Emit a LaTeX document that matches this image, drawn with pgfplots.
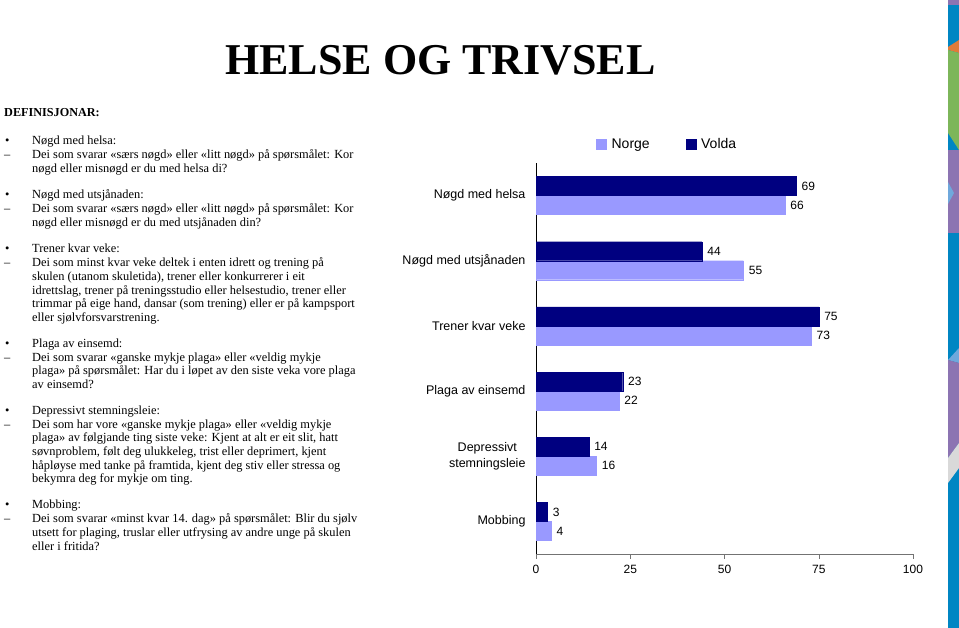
\documentclass[border=0pt]{standalone}
\usepackage{fontspec}
\setmainfont{Liberation Serif}
\newfontfamily\arial{Liberation Sans}
\usepackage{pgfplots}
\pgfplotsset{compat=1.18}

\definecolor{norge}{HTML}{9999FF}
\definecolor{volda}{HTML}{000080}
\definecolor{sblue}{HTML}{0086C3}
\definecolor{sgreen}{HTML}{7DB65A}
\definecolor{spurple}{HTML}{8C74B2}
\definecolor{sorange}{HTML}{E07B39}
\definecolor{slight}{HTML}{6FA8DC}
\definecolor{sgray}{HTML}{D9D9D9}

% one definition: bullet, dash, and the lines (y = first baseline, from top)
\newcommand\grp[2]{%
  \node[anchor=base west,inner sep=0] at (5pt,{(628-#1)*1pt}) {\fontsize{12.4}{13.7}\selectfont •};
  \node[anchor=base west,inner sep=0] at (4pt,{(628-#1-13.7)*1pt}) {\fontsize{12.4}{13.7}\selectfont –};
  \node[anchor=base west,inner sep=0] at (32pt,{(628-#1)*1pt})
    {\parbox[t]{360pt}{\fontsize{12.4}{13.7}\selectfont\raggedright #2}};
}

\begin{document}
\begin{tikzpicture}
\path[use as bounding box, fill=white] (0,0) rectangle (959pt,628pt);

% right decoration strip
\fill[sblue] (948pt,0) rectangle (959pt,628pt);
\fill[spurple] (948pt,628pt) rectangle (959pt,623pt);
\fill[sorange] (948pt,581pt) -- (959pt,588pt) -- (959pt,575pt) -- (948pt,578pt) -- cycle;
\fill[sgreen] (948pt,578pt) -- (959pt,575pt) -- (959pt,478pt) -- (948pt,495pt) -- cycle;
\fill[spurple] (948pt,478pt) rectangle (959pt,395pt);
\fill[slight] (948pt,446pt) -- (954pt,435pt) -- (948pt,424pt) -- cycle;
\fill[slight] (948pt,268pt) -- (959pt,280pt) -- (959pt,265pt) -- cycle;
\fill[spurple] (948pt,268pt) -- (959pt,265pt) -- (959pt,185pt) -- (948pt,170pt) -- cycle;
\fill[sgray] (948pt,170pt) -- (959pt,185pt) -- (959pt,160pt) -- (948pt,145pt) -- cycle;

% title
\node[anchor=base,inner sep=0] at (440.5pt,553pt)
  {\fontsize{44}{50}\selectfont\bfseries HELSE OG TRIVSEL};

% definitions
\node[anchor=base west,inner sep=0] at (4pt,511pt)
  {\fontsize{12.2}{14}\selectfont\bfseries DEFINISJONAR:};
\grp{145}{Nøgd med helsa:\\
Dei som svarar «særs nøgd» eller «litt nøgd» på spørsmålet: Kor\\
nøgd eller misnøgd er du med helsa di?}
\grp{199}{Nøgd med utsjånaden:\\
Dei som svarar «særs nøgd» eller «litt nøgd» på spørsmålet: Kor\\
nøgd eller misnøgd er du med utsjånaden din?}
\grp{253}{Trener kvar veke:\\
Dei som minst kvar veke deltek i enten idrett og trening på\\
skulen (utanom skuletida), trener eller konkurrerer i eit\\
idrettslag, trener på treningsstudio eller helsestudio, trener eller\\
trimmar på eige hand, dansar (som trening) eller er på kampsport\\
eller sjølvforsvarstrening.}
\grp{347.5}{Plaga av einsemd:\\
Dei som svarar «ganske mykje plaga» eller «veldig mykje\\
plaga» på spørsmålet: Har du i løpet av den siste veka vore plaga\\
av einsemd?}
\grp{414.5}{Depressivt stemningsleie:\\
Dei som har vore «ganske mykje plaga» eller «veldig mykje\\
plaga» av følgjande ting siste veke: Kjent at alt er eit slit, hatt\\
søvnproblem, følt deg ulukkeleg, trist eller deprimert, kjent\\
håpløyse med tanke på framtida, kjent deg stiv eller stressa og\\
bekymra deg for mykje om ting.}
\grp{509}{Mobbing:\\
Dei som svarar «minst kvar 14. dag» på spørsmålet: Blir du sjølv\\
utsett for plaging, truslar eller utfrysing av andre unge på skulen\\
eller i fritida?}

\begin{axis}[
  at={(536pt,74pt)}, anchor=south west,
  scale only axis, width=377pt, height=391pt,
  xbar, bar width=19pt,
  xmin=0, xmax=100, ymin=-0.5, ymax=5.5,
  axis lines=left, axis line style={-},
  x axis line style={black!55},
  y axis line style={black},
  xtick={0,25,50,75,100},
  ytick={0,...,5},
  yticklabels={Mobbing,{Depressivt\\stemningsleie},Plaga av einsemd,Trener kvar veke,Nøgd med utsjånaden,Nøgd med helsa},
  tick align=outside,
  major tick length=5pt,
  major y tick style={draw=none},
  extra y ticks={-0.5,0.5,1.5,2.5,3.5,4.5,5.5},
  extra y tick labels={},
  extra y tick style={major tick length=5pt, tick style={black}},
  x tick style={black!55},
  /pgf/number format/assume math mode=true,
  ticklabel style={font=\arial\fontsize{12.5}{16}\selectfont},
  yticklabel style={align=center, xshift=-2pt},
  xticklabel style={font=\arial\fontsize{12}{14}\selectfont, yshift=-3pt},
  nodes near coords, point meta=x,
  every node near coord/.append style={font=\arial\fontsize{12}{14}\selectfont, black, xshift=2pt},
  legend columns=2,
  legend style={draw=none, fill=none, at={(0.348,1.047)}, anchor=center,
    font=\arial\fontsize{14}{16}\selectfont,
    /tikz/every even column/.append style={column sep=34pt}},
  legend image code/.code={\fill[#1] (0pt,-4.5pt) rectangle (10pt,5pt); \path (13pt,0pt);},
]
\addplot[fill=norge, draw=norge, bar shift=-9.5pt] coordinates {
  (66,5) (55,4) (73,3) (22,2) (16,1) (4,0)};
\addplot[fill=volda, draw=volda, bar shift=9.5pt] coordinates {
  (69,5) (44,4) (75,3) (23,2) (14,1) (3,0)};
\legend{Norge, Volda}
\end{axis}
\end{tikzpicture}
\end{document}
